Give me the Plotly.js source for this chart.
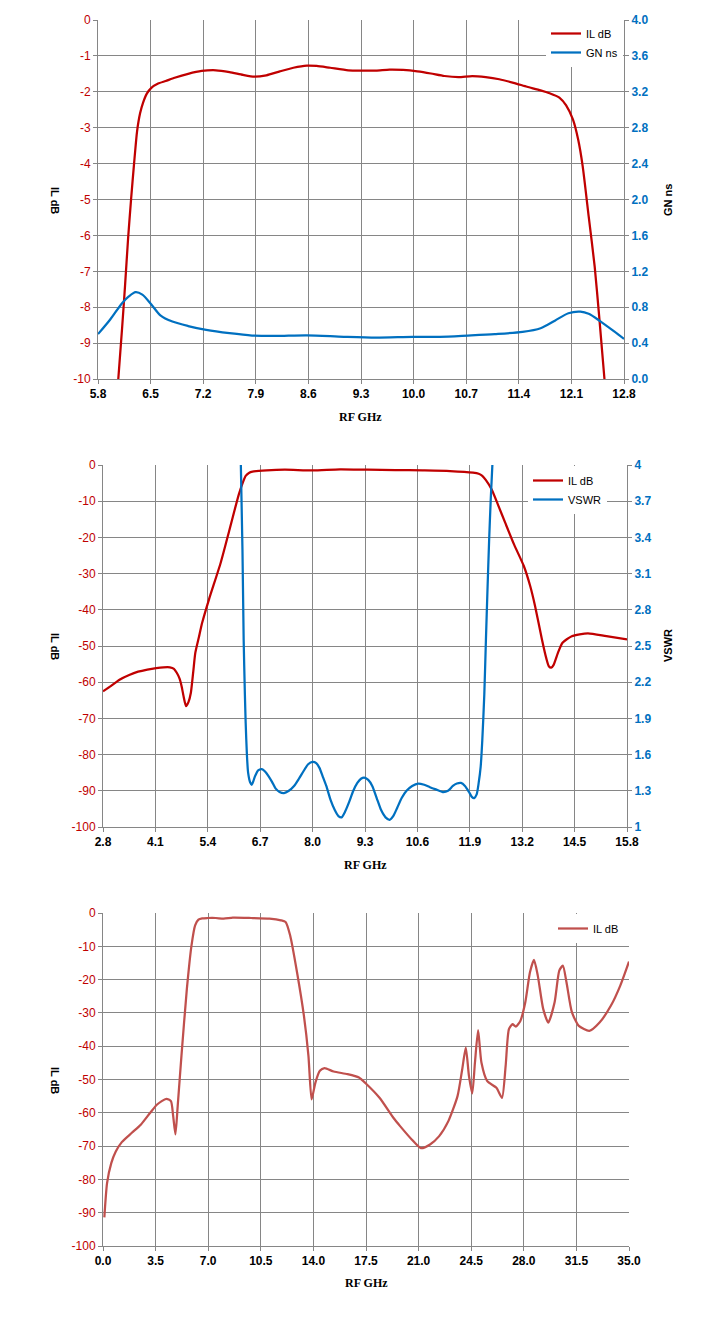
<!DOCTYPE html>
<html>
<head>
<meta charset="utf-8">
<script src="https://cdn.plot.ly/plotly-3.0.1.min.js"></script>
<style>
html,body{margin:0;padding:0;background:#fff;}
#chart{width:718px;height:1332px;}
</style>
</head>
<body>
<div id="chart"></div>
<script>
// ---------- Chart 1 : IL dB and group delay (GN ns) ----------
const c1IlFreq = [6.07,6.12,6.16,6.20,6.24,6.28,6.32,6.36,6.40,6.45,6.51,6.60,6.70,6.82,7.00,7.18,7.37,7.55,7.73,7.88,8.04,8.22,8.40,8.58,8.71,8.89,9.13,9.32,9.50,9.68,9.86,10.05,10.23,10.41,10.60,10.78,10.96,11.14,11.33,11.51,11.69,11.81,11.94,12.03,12.12,12.19,12.25,12.33,12.41,12.47,12.54];
const c1Il = [-10,-8.6,-7.4,-6.1,-5.0,-4.0,-3.1,-2.6,-2.3,-2.05,-1.89,-1.77,-1.70,-1.61,-1.50,-1.42,-1.40,-1.45,-1.53,-1.58,-1.54,-1.43,-1.33,-1.27,-1.28,-1.33,-1.40,-1.41,-1.41,-1.38,-1.39,-1.43,-1.49,-1.56,-1.59,-1.56,-1.59,-1.65,-1.75,-1.86,-1.96,-2.04,-2.16,-2.38,-2.77,-3.33,-4.07,-5.47,-6.87,-8.26,-10];
const c1GdFreq = [5.80,5.96,6.12,6.21,6.30,6.39,6.51,6.63,6.79,7.00,7.24,7.55,7.85,8.16,8.58,9.07,9.50,9.99,10.35,10.72,11.08,11.45,11.69,11.88,12.06,12.22,12.33,12.49,12.67,12.80];
const c1Gn = [0.50,0.66,0.845,0.92,0.967,0.94,0.83,0.71,0.64,0.59,0.547,0.51,0.484,0.48,0.487,0.47,0.46,0.47,0.47,0.484,0.50,0.525,0.566,0.65,0.733,0.75,0.726,0.64,0.53,0.447];
const c1YTickVals = [0,-1,-2,-3,-4,-5,-6,-7,-8,-9,-10];
const c1YTickText = ['0','-1','-2','-3','-4','-5','-6','-7','-8','-9','-10'];

// ---------- Chart 2 : IL dB and VSWR ----------
const c2IlFreq = [2.80,3.00,3.21,3.45,3.67,3.90,4.12,4.30,4.46,4.56,4.63,4.70,4.75,4.81,4.86,4.92,4.98,5.04,5.09,5.18,5.26,5.43,5.72,5.94,6.17,6.28,6.34,6.42,6.51,6.86,7.31,8.00,8.68,9.36,10.05,10.73,11.41,11.98,12.12,12.21,12.30,12.44,12.60,12.78,13.00,13.24,13.40,13.52,13.69,13.80,13.86,13.92,13.98,14.03,14.10,14.20,14.43,14.83,15.29,15.80];
const c2Il = [-62.5,-61.0,-59.3,-58.0,-57.1,-56.5,-56.1,-55.9,-55.9,-56.3,-57.4,-59.0,-61.1,-64.5,-66.6,-65.5,-62.9,-57.0,-51.9,-47.5,-43.6,-37.1,-27.0,-17.8,-8.1,-4.5,-3.0,-2.2,-1.84,-1.5,-1.3,-1.5,-1.2,-1.3,-1.4,-1.5,-1.66,-2.1,-2.4,-3.0,-4.2,-6.7,-11.0,-16.0,-22.0,-27.9,-33.5,-39.0,-48.2,-53.5,-55.6,-56.0,-55.2,-53.7,-51.5,-49.1,-47.3,-46.5,-47.3,-48.2];
const c2VsFreq = [6.22,6.26,6.29,6.32,6.34,6.37,6.40,6.45,6.49,6.53,6.57,6.65,6.74,6.82,6.91,7.00,7.08,7.18,7.29,7.41,7.54,7.66,7.77,7.89,8.00,8.09,8.17,8.25,8.34,8.45,8.55,8.64,8.72,8.81,8.91,9.01,9.11,9.20,9.28,9.38,9.48,9.59,9.70,9.81,9.91,10.00,10.10,10.21,10.33,10.47,10.62,10.77,10.91,11.07,11.23,11.36,11.48,11.58,11.68,11.78,11.88,11.95,12.01,12.07,12.12,12.17,12.21,12.26,12.30,12.34,12.38,12.42,12.46];
const c2Vs = [4.0,3.3,2.55,2.1,1.86,1.6,1.45,1.37,1.35,1.38,1.42,1.47,1.48,1.46,1.42,1.37,1.32,1.29,1.28,1.30,1.34,1.40,1.46,1.52,1.54,1.53,1.49,1.42,1.34,1.22,1.14,1.09,1.08,1.13,1.21,1.30,1.365,1.40,1.41,1.39,1.34,1.24,1.14,1.08,1.06,1.09,1.16,1.24,1.30,1.34,1.36,1.35,1.33,1.31,1.29,1.30,1.34,1.36,1.365,1.34,1.29,1.25,1.24,1.27,1.365,1.50,1.72,2.10,2.55,2.98,3.38,3.72,4.0];
const dbTickVals = [0,-10,-20,-30,-40,-50,-60,-70,-80,-90,-100];
const dbTickText = ['0','-10','-20','-30','-40','-50','-60','-70','-80','-90','-100'];

// ---------- Chart 3 : wide-band IL dB ----------
const c3Freq = [0.09,0.27,0.55,0.85,1.25,1.92,2.53,3.14,3.60,4.21,4.52,4.67,4.82,4.97,5.22,5.58,5.89,6.13,6.35,6.60,6.96,7.50,8.03,8.64,9.86,11.08,11.84,12.15,12.45,12.91,13.37,13.67,13.88,14.13,14.43,14.74,15.35,16.27,17.03,17.49,18.40,19.32,19.77,20.54,21.15,21.76,22.37,22.98,23.59,23.90,24.14,24.35,24.57,24.75,24.96,25.18,25.57,26.18,26.55,26.79,27.01,27.25,27.47,27.77,28.10,28.41,28.68,28.93,29.29,29.63,30.05,30.36,30.60,30.84,31.20,31.66,32.36,33.04,33.80,34.42,35.00];
const c3Il = [-91.4,-81.1,-75.1,-71.6,-68.8,-66.0,-63.5,-60.0,-57.5,-55.8,-56.5,-61.0,-66.5,-58.0,-42.9,-22.8,-9.7,-3.7,-2.0,-1.6,-1.5,-1.5,-1.7,-1.4,-1.5,-1.7,-2.2,-2.7,-6.7,-17.8,-30.9,-42.9,-56.0,-51.0,-47.4,-46.6,-47.6,-48.4,-49.4,-51.2,-55.5,-61.5,-64.0,-68.0,-70.6,-69.5,-67.0,-62.5,-55.0,-47.0,-40.4,-48.9,-54.2,-44.9,-35.2,-44.9,-50.5,-52.5,-55.5,-46.0,-34.9,-33.4,-34.1,-32.4,-26.8,-17.8,-14.1,-18.8,-28.8,-32.9,-26.8,-17.3,-15.8,-20.8,-29.8,-33.9,-35.4,-32.9,-27.8,-21.8,-14.6];

// ---------- layout geometry (pixels in a 718 x 1332 page) ----------
const W = 718, H = 1332;
const px = v => v / W;
const py = v => 1 - v / H;

const RED = '#c00000', BLUE = '#0070c0', RED3 = '#c0504d', GRID = '#868686';
const tickFontX = {family: 'Liberation Sans, Arial, sans-serif', size: 12, color: '#000', weight: 700};
const tickFontL = {family: 'Liberation Sans, Arial, sans-serif', size: 12, color: RED};
const tickFontR = {family: 'Liberation Sans, Arial, sans-serif', size: 12, color: BLUE, weight: 700};

function xAx(domain, range, dtick, anchor) {
  return {domain: domain, range: range, tick0: range[0], dtick: dtick, tickformat: '.1f',
    showgrid: true, gridcolor: GRID, gridwidth: 1, zeroline: false,
    showline: true, linecolor: GRID, linewidth: 1, ticks: 'outside', ticklen: 4, tickcolor: GRID,
    tickfont: tickFontX, anchor: anchor, fixedrange: true};
}
function yAx(domain, range, vals, text, anchor) {
  return {domain: domain, range: range, tickmode: 'array', tickvals: vals, ticktext: text,
    showgrid: true, gridcolor: GRID, gridwidth: 1, zeroline: false,
    showline: true, linecolor: GRID, linewidth: 1, ticks: 'outside', ticklen: 4, tickcolor: GRID,
    tickfont: tickFontL, anchor: anchor, fixedrange: true};
}
function yAxR(range, dtick, anchor, overlay, fmt) {
  const a = {range: range, tick0: range[0], dtick: dtick, overlaying: overlay, side: 'right', anchor: anchor,
    showgrid: false, zeroline: false, showline: true, linecolor: GRID, linewidth: 1,
    ticks: 'outside', ticklen: 4, tickcolor: GRID, tickfont: tickFontR, fixedrange: true};
  if (fmt) a.tickformat = fmt;
  return a;
}

const traces = [
  {x: c1IlFreq, y: c1Il, name: 'IL dB', type: 'scatter', mode: 'lines', xaxis: 'x', yaxis: 'y',
   line: {color: RED, width: 2.25, shape: 'spline', smoothing: 0.6}, legend: 'legend'},
  {x: c1GdFreq, y: c1Gn, name: 'GN ns', type: 'scatter', mode: 'lines', xaxis: 'x', yaxis: 'y2',
   line: {color: BLUE, width: 2.25, shape: 'spline', smoothing: 0.8}, legend: 'legend'},
  {x: c2IlFreq, y: c2Il, name: 'IL dB', type: 'scatter', mode: 'lines', xaxis: 'x2', yaxis: 'y3',
   line: {color: RED, width: 2.25, shape: 'spline', smoothing: 0.6}, legend: 'legend2'},
  {x: c2VsFreq, y: c2Vs, name: 'VSWR', type: 'scatter', mode: 'lines', xaxis: 'x2', yaxis: 'y4',
   line: {color: BLUE, width: 2.25, shape: 'spline', smoothing: 0.6}, legend: 'legend2'},
  {x: c3Freq, y: c3Il, name: 'IL dB', type: 'scatter', mode: 'lines', xaxis: 'x3', yaxis: 'y5',
   line: {color: RED3, width: 2.25, shape: 'spline', smoothing: 0.6}, legend: 'legend3'}
];

const legFont = {family: 'Liberation Sans, Arial, sans-serif', size: 11, color: '#000'};
const titleFontX = {family: 'Liberation Serif, Times New Roman, serif', size: 12, color: '#000', weight: 700};
const titleFontY = {family: 'Liberation Sans, Arial, sans-serif', size: 11, color: '#000', weight: 700};

function ann(text, x, y, angle, font) {
  return {text: text, xref: 'paper', yref: 'paper', x: px(x), y: py(y), xanchor: 'center', yanchor: 'middle',
    showarrow: false, textangle: angle, font: font};
}

const layout = {
  width: W, height: H, margin: {l: 0, r: 0, t: 0, b: 0},
  paper_bgcolor: '#fff', plot_bgcolor: '#fff', showlegend: true,
  xaxis: xAx([px(98), px(624)], [5.8, 12.8], 0.7, 'y'),
  yaxis: yAx([py(379), py(20)], [-10, 0], c1YTickVals, c1YTickText, 'x'),
  yaxis2: yAxR([0, 4], 0.4, 'x', 'y', '.1f'),
  xaxis2: xAx([px(103), px(627)], [2.8, 15.8], 1.3, 'y3'),
  yaxis3: yAx([py(827), py(465)], [-100, 0], dbTickVals, dbTickText, 'x2'),
  yaxis4: yAxR([1, 4], 0.3, 'x2', 'y3'),
  xaxis3: xAx([px(103), px(629)], [0, 35], 3.5, 'y5'),
  yaxis5: yAx([py(1246), py(913)], [-100, 0], dbTickVals, dbTickText, 'x3'),
  legend: {x: px(546), y: py(19), xanchor: 'left', yanchor: 'top', bgcolor: '#fff', borderwidth: 0,
    font: legFont, tracegroupgap: 0},
  legend2: {x: px(528), y: py(466), xanchor: 'left', yanchor: 'top', bgcolor: '#fff', borderwidth: 0,
    font: legFont, tracegroupgap: 0},
  legend3: {x: px(553), y: py(914), xanchor: 'left', yanchor: 'top', bgcolor: '#fff', borderwidth: 0,
    font: legFont, tracegroupgap: 0},
  annotations: [
    ann('RF GHz', 361, 417, 0, titleFontX),
    ann('IL dB', 55, 200, 90, titleFontY),
    ann('GN ns', 668, 200, -90, titleFontY),
    ann('RF GHz', 365, 865, 0, titleFontX),
    ann('IL dB', 55, 646, 90, titleFontY),
    ann('VSWR', 668, 646, -90, titleFontY),
    ann('RF GHz', 366, 1283, 0, titleFontX),
    ann('IL dB', 55, 1080, 90, titleFontY)
  ]
};

Plotly.newPlot('chart', traces, layout, {staticPlot: true, displayModeBar: false});
</script>
</body>
</html>
